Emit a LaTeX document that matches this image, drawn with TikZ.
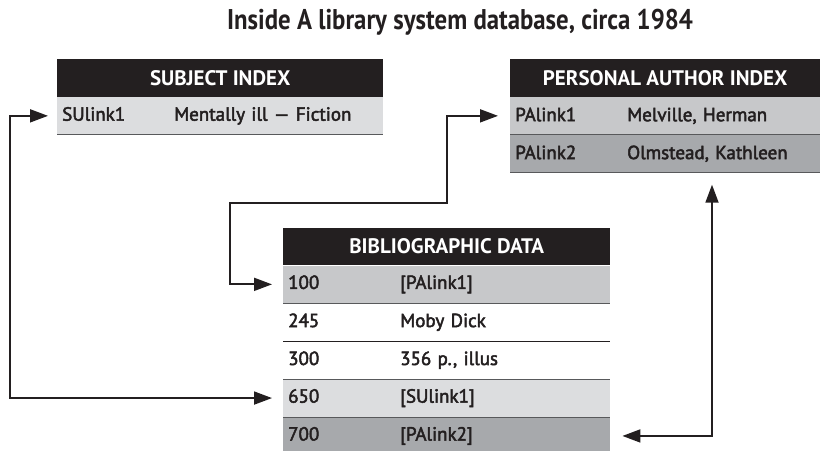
\documentclass[tikz,border=0pt]{standalone}
\usepackage{fontspec}
\setmainfont{PT Sans}
\newfontfamily\titlefont[FakeStretch=0.87]{PT Sans}
\newfontfamily\rowfont[FakeBold=2.5]{PT Sans}
\usepackage{tikz,xcolor}
\usetikzlibrary{positioning, arrows.meta}

\definecolor{headblack}{HTML}{231F20}
\definecolor{rowlight}{HTML}{DCDDDF}
\definecolor{rowmid}{HTML}{C7C8CA}
\definecolor{rowdark}{HTML}{A7A9AC}
\definecolor{rule}{HTML}{58595B}

\tikzset{
    tablehead/.style={fill=headblack, text=white, font=\bfseries\fontsize{21}{23}\selectfont,
        minimum height=37.5pt, inner sep=0pt, anchor=north west},
    tablerow/.style={minimum height=37.5pt, inner xsep=5pt, inner ysep=0pt, align=left,
        font=\rowfont\fontsize{19}{21}\selectfont, text=headblack},
    link/.style={line width=1.8pt, draw=headblack,
        {Triangle[length=18pt,width=13pt]}-{Triangle[length=18pt,width=13pt]}},
}
\newcommand{\fieldtag}[1]{\makebox[112pt][l]{#1}}

\begin{document}
\begin{tikzpicture}[x=1pt, y=-1pt, node distance=0pt]
    \useasboundingbox (0,0) rectangle (829,450);

    \node[font=\titlefont\bfseries\fontsize{28.5}{30}\selectfont, text=headblack] (title) at (460,22)
        {Inside A library system database, circa 1984};

    % subject index
    \node[tablehead, minimum width=326pt] (subject head) at (57,59) {SUBJECT INDEX};
    \node[tablerow, fill=rowlight, text width=316pt, below=of subject head] (subject 1)
        {\fieldtag{SUlink1}Mentally ill — Fiction};

    % personal author index
    \node[tablehead, minimum width=310pt] (author head) at (510,59) {PERSONAL AUTHOR INDEX};
    \node[tablerow, fill=rowmid, text width=300pt, below=of author head] (author 1)
        {\fieldtag{PAlink1}Melville, Herman};
    \node[tablerow, fill=rowdark, text width=300pt, below=of author 1] (author 2)
        {\fieldtag{PAlink2}Olmstead, Kathleen};

    % bibliographic data
    \node[tablehead, minimum width=327pt] (bib head) at (283,227.5) {BIBLIOGRAPHIC DATA};
    \node[tablerow, fill=rowmid, text width=317pt, below=of bib head] (bib 100)
        {\fieldtag{100}[PAlink1]};
    \node[tablerow, fill=white, text width=317pt, below=of bib 100] (bib 245)
        {\fieldtag{245}Moby Dick};
    \node[tablerow, fill=white, text width=317pt, below=of bib 245] (bib 300)
        {\fieldtag{300}356 p., illus};
    \node[tablerow, fill=rowlight, text width=317pt, below=of bib 300] (bib 650)
        {\fieldtag{650}[SUlink1]};
    \node[tablerow, fill=rowdark, text width=317pt, below=of bib 650] (bib 700)
        {\fieldtag{700}[PAlink2]};

    % row rules
    \foreach \r in {subject 1, author 1, author 2, bib 100, bib 300, bib 650}
        \draw[rule, line width=1pt] (\r.south west) -- (\r.south east);
    \draw[headblack, line width=0.8pt] (bib 245.south west) -- (bib 245.south east);

    % links
    \coordinate (left rail) at (10,0);
    \coordinate (jog a) at (230,203);
    \coordinate (jog b) at (447,203);
    \coordinate (right rail) at (712,0);

    \draw[link] ([xshift=-11pt]bib 650.west) -| (left rail |- subject 1.west)
        -- ([xshift=-9pt]subject 1.west);
    \draw[link] ([xshift=-11pt]bib 100.west) -| (jog a) -- (jog b)
        |- ([xshift=-12pt]author 1.west);
    \draw[link] ([xshift=12pt]bib 700.east) -| ([yshift=-12pt]author 2.south -| right rail);
\end{tikzpicture}
\end{document}
